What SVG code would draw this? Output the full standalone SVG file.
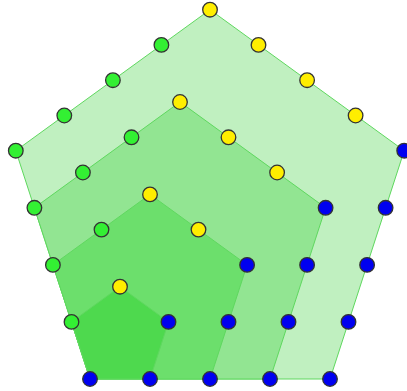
<svg xmlns="http://www.w3.org/2000/svg" width="407" height="391" viewBox="0 0 407 391">
<style>
.pg{stroke:#5fd85f;stroke-width:1;stroke-linejoin:round}
.d{stroke:#333;stroke-width:1.3}
.g{fill:#33f033}
.y{fill:#ffee00}
.b{fill:#0000f0}
</style>
<rect width="407" height="391" fill="#fff"/>
<g id="pentagons">
<polygon id="p4" class="pg" fill="#c0f0c0" points="90,379 330,379 404.2,150.7 210,9.7 15.8,150.7"/>
<polygon id="p3" class="pg" fill="#92e592" points="90,379 270,379 325.6,207.8 180,102 34.4,207.8"/>
<polygon id="p2" class="pg" fill="#6cdf6c" points="90,379 210,379 247.1,264.9 150,194.4 52.9,264.9"/>
<polygon id="p1" class="pg" fill="#4ed94e" points="90,379 150,379 168.5,321.9 120,286.7 71.5,321.9"/>
</g>
<g id="dots" class="d">
<circle class="b" cx="90" cy="379" r="7.3"/>
<circle class="g" cx="71.5" cy="321.9" r="7.3"/>
<circle class="y" cx="120" cy="286.7" r="7.3"/>
<circle class="b" cx="168.5" cy="321.9" r="7.3"/>
<circle class="b" cx="150" cy="379" r="7.3"/>
<circle class="g" cx="52.9" cy="264.9" r="7.3"/>
<circle class="g" cx="101.5" cy="229.6" r="7.3"/>
<circle class="y" cx="150" cy="194.4" r="7.3"/>
<circle class="y" cx="198.5" cy="229.6" r="7.3"/>
<circle class="b" cx="247.1" cy="264.9" r="7.3"/>
<circle class="b" cx="228.5" cy="321.9" r="7.3"/>
<circle class="b" cx="210" cy="379" r="7.3"/>
<circle class="g" cx="34.4" cy="207.8" r="7.3"/>
<circle class="g" cx="82.9" cy="172.5" r="7.3"/>
<circle class="g" cx="131.5" cy="137.3" r="7.3"/>
<circle class="y" cx="180" cy="102" r="7.3"/>
<circle class="y" cx="228.5" cy="137.3" r="7.3"/>
<circle class="y" cx="277.1" cy="172.5" r="7.3"/>
<circle class="b" cx="325.6" cy="207.8" r="7.3"/>
<circle class="b" cx="307.1" cy="264.9" r="7.3"/>
<circle class="b" cx="288.5" cy="321.9" r="7.3"/>
<circle class="b" cx="270" cy="379" r="7.3"/>
<circle class="g" cx="15.8" cy="150.7" r="7.3"/>
<circle class="g" cx="64.3" cy="115.5" r="7.3"/>
<circle class="g" cx="112.9" cy="80.2" r="7.3"/>
<circle class="g" cx="161.4" cy="44.9" r="7.3"/>
<circle class="y" cx="210" cy="9.7" r="7.3"/>
<circle class="y" cx="258.5" cy="44.9" r="7.3"/>
<circle class="y" cx="307.1" cy="80.2" r="7.3"/>
<circle class="y" cx="355.6" cy="115.5" r="7.3"/>
<circle class="b" cx="404.2" cy="150.7" r="7.3"/>
<circle class="b" cx="385.6" cy="207.8" r="7.3"/>
<circle class="b" cx="367.1" cy="264.9" r="7.3"/>
<circle class="b" cx="348.5" cy="321.9" r="7.3"/>
<circle class="b" cx="330" cy="379" r="7.3"/>
</g>
</svg>
